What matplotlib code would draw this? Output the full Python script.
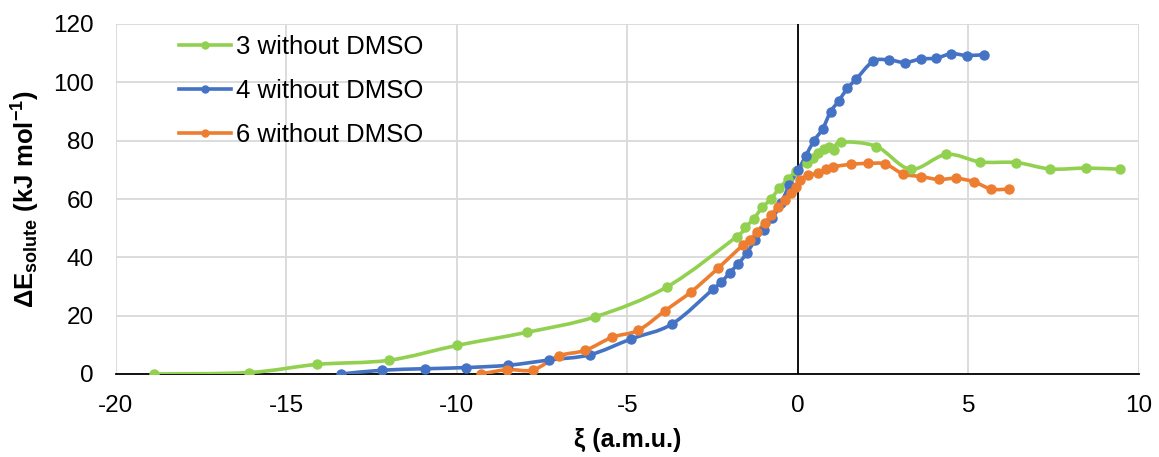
import matplotlib
matplotlib.use('Agg')
import matplotlib.pyplot as plt
import numpy as np
from matplotlib.path import Path
from matplotlib.patches import PathPatch
from matplotlib.lines import Line2D

plt.rcParams['font.family'] = ['Liberation Sans', 'DejaVu Sans']
plt.rcParams['mathtext.fontset'] = 'custom'
plt.rcParams['mathtext.rm'] = 'Liberation Sans'
plt.rcParams['mathtext.bf'] = 'Liberation Sans:bold'
plt.rcParams['mathtext.it'] = 'Liberation Sans:italic'
plt.rcParams['axes.unicode_minus'] = False

# series 3 without DMSO
x3 = [-18.9, -16.1, -14.1, -12.0, -10.0, -7.95, -5.95, -3.85, -1.8, -1.55, -1.3,
      -1.05, -0.8, -0.55, -0.3, -0.05, 0.25, 0.45, 0.6, 0.75, 0.9, 1.05, 1.25,
      2.3, 3.3, 4.35, 5.35, 6.4, 7.4, 8.45, 9.45]
y3 = [0, 0.5, 3.3, 4.7, 9.8, 14.3, 19.6, 29.8, 47.1, 50.3, 53.2,
      57.1, 59.9, 63.7, 66.7, 69.7, 72.5, 74.0, 75.7, 77.0, 77.9, 76.8, 79.5,
      78.0, 70.2, 75.3, 72.7, 72.5, 70.3, 70.6, 70.2]

# series 4 without DMSO
x4 = [-13.4, -12.2, -10.95, -9.75, -8.5, -7.3, -6.1, -4.9, -3.7, -2.5, -2.25,
      -2.0, -1.75, -1.5, -1.25, -1.0, -0.75, -0.5, -0.25, 0.0, 0.22, 0.47, 0.72,
      0.96, 1.2, 1.45, 1.7, 2.2, 2.67, 3.13, 3.6, 4.05, 4.5, 4.95, 5.45]
y4 = [0, 1.3, 1.8, 2.2, 3.0, 4.8, 6.6, 12.0, 17.1, 29.0, 31.4,
      34.8, 37.8, 41.5, 46.0, 49.5, 53.4, 58.5, 64.8, 69.8, 74.6, 80.0, 84.0,
      90.0, 93.7, 98.0, 101.0, 107.2, 107.7, 106.8, 108.0, 108.3, 109.8, 109.2, 109.5]

# series 6 without DMSO
x6 = [-9.3, -8.52, -7.77, -7.02, -6.24, -5.45, -4.68, -3.9, -3.13, -2.35, -1.61,
      -1.42, -1.2, -0.98, -0.78, -0.59, -0.39, -0.2, -0.05, 0.05, 0.3, 0.58, 0.82,
      1.03, 1.54, 2.05, 2.56, 3.08, 3.6, 4.13, 4.64, 5.16, 5.67, 6.19]
y6 = [0, 1.5, 1.4, 6.2, 8.1, 12.6, 15.0, 21.7, 28.2, 36.2, 44.3,
      45.9, 48.8, 51.7, 54.5, 57.4, 59.7, 62.0, 64.2, 66.5, 68.2, 68.8, 70.2,
      71.0, 71.9, 72.2, 72.0, 68.6, 67.7, 66.7, 67.1, 65.9, 63.4, 63.4]

labels = ['3 without DMSO', '4 without DMSO', '6 without DMSO']
colors = ['#92D050', '#4472C4', '#ED7D31']


def smooth_path(xs, ys):
    # Excel-style smoothed line: cubic Bezier segments through the points
    p = np.column_stack([xs, ys])
    n = len(p)
    verts = [p[0]]
    codes = [Path.MOVETO]
    for i in range(n - 1):
        p0 = p[max(i - 1, 0)]
        p1 = p[i]
        p2 = p[i + 1]
        p3 = p[min(i + 2, n - 1)]
        verts += [p1 + (p2 - p0) / 6, p2 - (p3 - p1) / 6, p2]
        codes += [Path.CURVE4] * 3
    return Path(verts, codes)


fig = plt.figure(figsize=(11.59, 4.57), dpi=100)
ax = fig.add_axes([116 / 1159, 1 - 374 / 457, 1023 / 1159, 350 / 457])

handles = []
for xs, ys, lab, col in zip([x3, x4, x6], [y3, y4, y6], labels, colors):
    ax.add_patch(PathPatch(smooth_path(xs, ys), fill=False, edgecolor=col,
                           lw=2.6, zorder=3, capstyle='round', joinstyle='round'))
    ax.plot(xs, ys, 'o', color=col, ms=6.5, zorder=4)
    handles.append(Line2D([], [], color=col, lw=2.6, marker='o', ms=5))

ax.set_xlim(-20, 10)
ax.set_ylim(0, 120)
ax.set_xticks(range(-20, 11, 5))
ax.set_yticks(range(0, 121, 20))
ax.grid(True, color='#D9D9D9', lw=1.3)
ax.set_axisbelow(True)
for s in ['top', 'right', 'left']:
    ax.spines[s].set_visible(False)
ax.spines['bottom'].set_color('black')
ax.spines['bottom'].set_linewidth(1.3)
ax.axvline(0, color='black', lw=1.3, zorder=2)
ax.tick_params(length=0, labelsize=17.5)
ax.tick_params(axis='x', pad=15)
ax.tick_params(axis='y', pad=16)

ax.set_xlabel('ξ (a.m.u.)', fontsize=18, fontweight='bold')
ax.xaxis.set_label_coords(0.5, -0.155)
ax.set_ylabel(r'$\mathbf{\Delta E_{solute}\ (kJ\ mol^{-1})}$', fontsize=18.5)
ax.yaxis.set_label_coords(-0.072, 0.5)

ax.legend(handles, labels, loc='upper left', bbox_to_anchor=(0.062, 0.97),
          frameon=False, fontsize=18.5, handlelength=2.0, labelspacing=0.78,
          handletextpad=0.2, borderpad=0, borderaxespad=0)

plt.savefig('out.png', dpi=100)
plt.close()
